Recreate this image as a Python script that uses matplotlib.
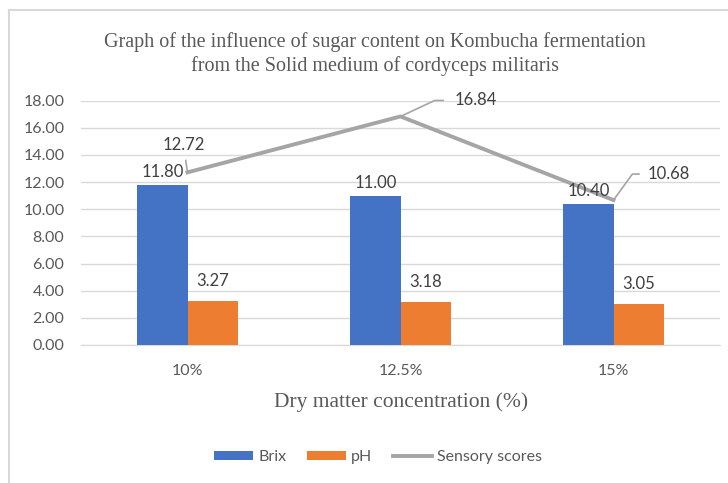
import matplotlib
matplotlib.use("Agg")
import matplotlib.pyplot as plt
from matplotlib.lines import Line2D
import numpy as np

categories = ["10%", "12.5%", "15%"]
brix = [11.80, 11.00, 10.40]
ph = [3.27, 3.18, 3.05]
sensory = [12.72, 16.84, 10.68]
yticks = [0, 2, 4, 6, 8, 10, 12, 14, 16, 18]

BLUE = "#4472C4"
ORANGE = "#ED7D31"
GRAY = "#A5A5A5"
TXT = "#595959"
SANS = "Lato"
SERIF = "Liberation Serif"


def main():
    fig = plt.figure(figsize=(7.28, 4.83), dpi=100)
    ax = fig.add_axes([81 / 728, 1 - 345 / 483, 639 / 728, 244.3 / 483])

    x = np.arange(len(categories))
    w = 0.235
    b1 = ax.bar(x - w / 2, brix, w, color=BLUE, label="Brix", zorder=3)
    b2 = ax.bar(x + w / 2, ph, w, color=ORANGE, label="pH", zorder=3)
    ln, = ax.plot(x, sensory, color=GRAY, lw=2.8, label="Sensory scores", zorder=4)

    ax.set_xlim(-0.5, 2.5)
    ax.set_ylim(0, 18)
    ax.set_yticks(yticks)
    ax.set_yticklabels(["%.2f" % v for v in yticks], fontfamily=SANS,
                       fontsize=11.5, color=TXT)
    ax.set_xticks(x)
    ax.set_xticklabels(categories, fontfamily=SANS, fontsize=11.5, color=TXT)
    ax.tick_params(axis="y", length=0, pad=12)
    ax.tick_params(axis="x", length=0, pad=14)
    ax.grid(axis="y", color="#D9D9D9", lw=1, zorder=0)
    for s in ["top", "right", "left"]:
        ax.spines[s].set_visible(False)
    ax.spines["bottom"].set_color("#D9D9D9")

    # bar labels
    for xi, v in zip(x, brix):
        ax.annotate("%.2f" % v, (xi - w / 2, v), xytext=(0, 13),
                    textcoords="offset pixels", ha="center", va="center",
                    fontfamily=SANS, fontsize=12, color="#404040", zorder=5)
    for xi, v in zip(x, ph):
        ax.annotate("%.2f" % v, (xi + w / 2, v), xytext=(0, 20),
                    textcoords="offset pixels", ha="center", va="center",
                    fontfamily=SANS, fontsize=12, color="#404040", zorder=5)

    # sensory labels with leader lines
    lbl = dict(textcoords="offset pixels", va="center", fontfamily=SANS,
               fontsize=12, color="#404040", zorder=5)
    ax.annotate("%.2f" % sensory[0], (x[0], sensory[0]), xytext=(-4, 27),
                ha="center",
                arrowprops=dict(arrowstyle="-", color=GRAY, lw=1.2,
                                shrinkA=3, shrinkB=0), **lbl)
    ax.annotate("%.2f" % sensory[1], (x[1], sensory[1]), xytext=(54, 16),
                ha="left",
                arrowprops=dict(arrowstyle="-", color=GRAY, lw=1.2,
                                relpos=(0, 0.5), shrinkA=6, shrinkB=0,
                                connectionstyle="angle,angleA=0,angleB=25,rad=0"),
                **lbl)
    ax.annotate("%.2f" % sensory[2], (x[2], sensory[2]), xytext=(34, 26),
                ha="left",
                arrowprops=dict(arrowstyle="-", color=GRAY, lw=1.2,
                                relpos=(0, 0.5), shrinkA=4, shrinkB=0,
                                connectionstyle="angle,angleA=0,angleB=54,rad=0"),
                **lbl)

    fig.text(375 / 728, 1 - 42 / 483,
             "Graph of the influence of sugar content on Kombucha fermentation",
             ha="center", va="center", fontfamily=SERIF, fontsize=14.5, color=TXT)
    fig.text(375 / 728, 1 - 66 / 483,
             "from the Solid medium of cordyceps militaris",
             ha="center", va="center", fontfamily=SERIF, fontsize=14.5, color=TXT)
    fig.text(401 / 728, 1 - 402 / 483, "Dry matter concentration (%)",
             ha="center", va="center", fontfamily=SERIF, fontsize=15.5, color=TXT)

    leg = fig.legend([b1, b2, ln], ["Brix", "pH", "Sensory scores"],
                     loc="center", bbox_to_anchor=(378 / 728, 1 - 457 / 483),
                     ncol=3, frameon=False, handlelength=2.45, handleheight=0.55,
                     columnspacing=1.3, handletextpad=0.3,
                     prop={"family": SANS, "size": 11.5})
    for t in leg.get_texts():
        t.set_color(TXT)

    # outer chart border (left and top edges visible)
    fig.add_artist(Line2D([8.5 / 728, 8.5 / 728], [0, 1 - 10 / 483],
                          transform=fig.transFigure, color="#D9D9D9", lw=1.5))
    fig.add_artist(Line2D([8.5 / 728, 1], [1 - 10 / 483, 1 - 10 / 483],
                          transform=fig.transFigure, color="#D9D9D9", lw=1.5))

    fig.savefig("out.png", dpi=100)


if __name__ == "__main__":
    main()
